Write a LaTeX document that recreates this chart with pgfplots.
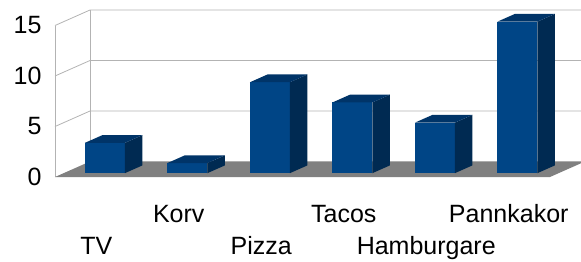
\documentclass[border=0pt]{standalone}
\usepackage{pgfplots}
\usepackage{pgfplotstable}
\pgfplotsset{compat=1.18}
\usepackage{fontspec}
\setmainfont{Liberation Sans}
\definecolor{barfront}{HTML}{004586}
\definecolor{bartop}{HTML}{003468}
\definecolor{barside}{HTML}{002A52}
\definecolor{floorgray}{HTML}{808080}
\definecolor{gridgray}{HTML}{B3B3B3}

\pgfplotstableread{
idx v
0 3
1 1
2 9
3 7
4 5
5 15
}\datatable

\begin{document}
\begin{tikzpicture}
\begin{axis}[
  x=82.5bp, y=10.1bp,
  xmin=-0.5, xmax=5.5, ymin=0, ymax=15,
  clip=false,
  axis line style={draw=none},
  major tick length=0pt,
  ytick={0,5,10,15},
  xtick={1,3,5},
  xticklabels={Korv,Tacos,Pannkakor},
  extra x ticks={0,2,4},
  extra x tick labels={TV,Pizza,Hamburgare},
  extra x tick style={xticklabel style={yshift=-32bp}},
  xticklabel style={anchor=base, yshift=-45bp},
  yticklabel style={anchor=east, xshift=-10bp},
  tick label style={font=\fontsize{25bp}{30bp}\selectfont},
  /pgf/number format/assume math mode=true,
]
% back wall grid and diagonals
\addplot[gridgray, line width=0.8bp] coordinates {(-0.5,5) (-0.0758,6.535) (5.9242,6.535)};
\addplot[gridgray, line width=0.8bp] coordinates {(-0.5,10) (-0.0758,11.535) (5.9242,11.535)};
\addplot[gridgray, line width=0.8bp] coordinates {(-0.5,15) (-0.0758,16.535) (5.9242,16.535)};
\addplot[gridgray, line width=0.8bp] coordinates {(-0.0758,1.535) (-0.0758,16.535)};
\addplot[gridgray, line width=0.8bp] coordinates {(-0.5,0) (-0.5,15)};
% floor
\addplot[draw=none, fill=floorgray] coordinates {(-0.5,0) (5.5,0) (5.9242,1.535) (-0.0758,1.535)};
% bars
\pgfplotsinvokeforeach{0,...,5}{
  \pgfplotstablegetelem{#1}{v}\of\datatable
  \let\val\pgfplotsretval
  \pgfmathsetmacro\xl{#1-0.2424+0.106}
  \pgfmathsetmacro\xr{#1+0.2424+0.106}
  \pgfmathsetmacro\xrb{#1+0.2424+0.318}
  \pgfmathsetmacro\xlb{#1-0.2424+0.318}
  \pgfmathsetmacro\yf{0.384}
  \pgfmathsetmacro\yb{1.151}
  \pgfmathsetmacro\ytf{\val+0.384}
  \pgfmathsetmacro\ytb{\val+1.151}
  \edef\tmp{\noexpand\addplot[draw=none, fill=barfront] coordinates {(\xl,\yf) (\xr,\yf) (\xr,\ytf) (\xl,\ytf)};
    \noexpand\addplot[draw=none, fill=barside] coordinates {(\xr,\yf) (\xrb,\yb) (\xrb,\ytb) (\xr,\ytf)};
    \noexpand\addplot[draw=none, fill=bartop] coordinates {(\xl,\ytf) (\xr,\ytf) (\xrb,\ytb) (\xlb,\ytb)};}
  \tmp
}
\coordinate (tl) at (axis cs:-1.1667,17.525);
\coordinate (br) at (axis cs:5.876,-8.317);
\end{axis}
\pgfresetboundingbox
\path[use as bounding box] (tl) rectangle (br);
\end{tikzpicture}
\end{document}
